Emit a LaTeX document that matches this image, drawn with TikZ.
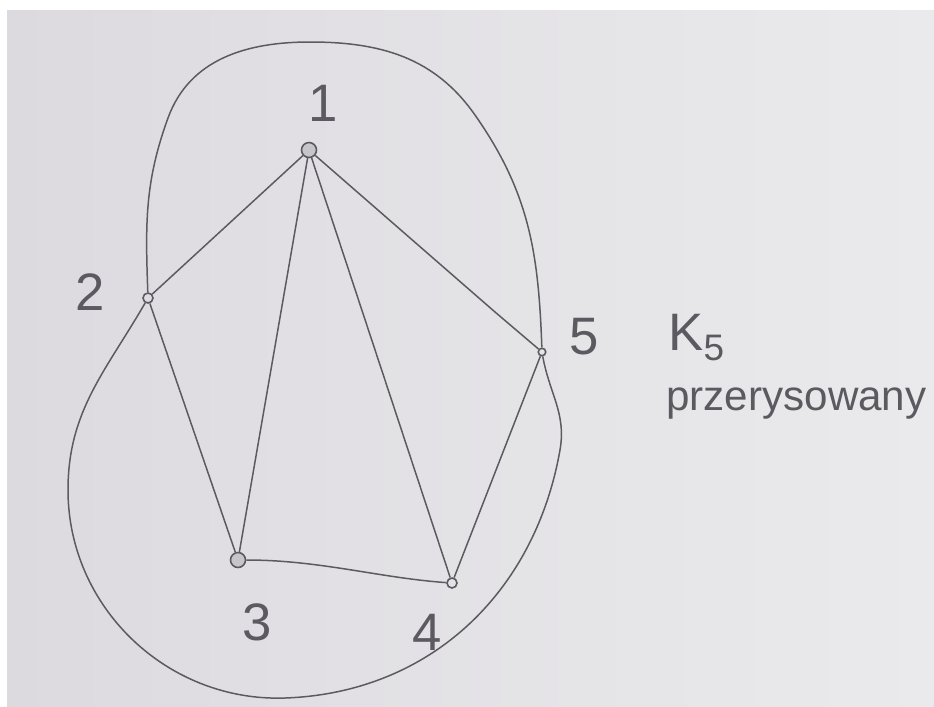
\documentclass[tikz,border=0pt]{standalone}
\usepackage{fontspec}
\setmainfont{Liberation Sans}
\usepackage{xcolor}
\definecolor{paperLeft}{HTML}{DDDADF}
\definecolor{paperRight}{HTML}{EAEAEC}
\definecolor{pencil}{HTML}{5C5A61}
\usetikzlibrary{positioning}

\begin{document}
\begin{tikzpicture}[
  x=0.02cm,y=-0.02cm,
  vertex/.style={draw=pencil,circle,line width=0.9pt,minimum size=0.2cm,inner sep=0pt},
  bigvertex/.style={vertex,minimum size=0.3cm,fill=pencil!35},
  numlabel/.style={text=pencil,font=\fontsize{30}{30}\selectfont,inner sep=0pt},
  edge/.style={pencil,line width=0.85pt}]
  % photo background
  \fill[white] (0,0) rectangle (934,707);
  \shade[left color=paperLeft,right color=paperRight] (7,10) rectangle (934,707);
  \useasboundingbox (0,0) rectangle (934,707);
  % vertices
  \node[bigvertex] (v1) at (309,150) {};
  \node[vertex] (v2) at (148,298) {};
  \node[bigvertex] (v3) at (238,560) {};
  \node[vertex] (v4) at (452,583) {};
  \node[vertex,minimum size=0.15cm] (v5) at (542,352) {};
  % labels
  \node[numlabel] (l1) at (323,103) {1};
  \node[numlabel] (l2) at (90,292) {2};
  \node[numlabel] (l3) at (257,622) {3};
  \node[numlabel] (l4) at (427,632) {4};
  \node[numlabel] (l5) at (584,337) {5};
  \node[text=pencil,font=\fontsize{30}{30}\selectfont,anchor=base west,inner sep=0pt] (title) at (668,350) {K\textsubscript{5}};
  \node[text=pencil,font=\fontsize{24}{24}\selectfont,anchor=base west,inner sep=0pt] (subtitle) at (666,410) {przerysowany};
  % edges
  \draw[edge] (v1) -- (v2);
  \draw[edge] (v1) -- (v3);
  \draw[edge] (v1) -- (v4);
  \draw[edge] (v1) -- (495,312) -- (v5);
  \draw[edge] (v2) -- (v3);
  \draw[edge] (v3) .. controls (320,560) and (380,578) .. (v4);
  \draw[edge] (v4) -- (v5);
  % outer curves
  \draw[edge] (v2) to[out=92,in=250] (168,118) to[out=70,in=180] (310,42)
    to[out=0,in=125] (475,115) to[out=-55,in=92] (v5);
  \draw[edge] (v2) to[out=-120,in=90] (68,490) to[out=-90,in=182] (285,698)
    to[out=2,in=-100] (560,450) to[out=80,in=-80] (v5);
\end{tikzpicture}
\end{document}
